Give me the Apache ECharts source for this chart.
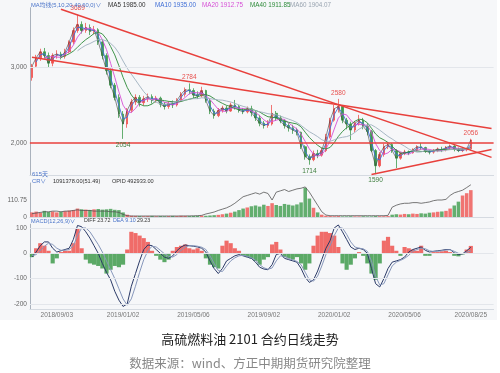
<!DOCTYPE html>
<html><head><meta charset="utf-8">
<script src="https://cdn.jsdelivr.net/npm/echarts@6/dist/echarts.min.js"></script>
<style>html,body{margin:0;padding:0;background:#fff}#c{width:500px;height:373px}</style>
</head><body><div id="c"></div>
<script>
// Weekly samples (first trading day of each week) of the daily chart
const dates = ['2018/07/23','2018/07/30','2018/08/06','2018/08/13','2018/08/20','2018/08/27','2018/09/03','2018/09/10','2018/09/17','2018/09/25',
'2018/10/08','2018/10/15','2018/10/22','2018/10/29','2018/11/05','2018/11/12','2018/11/19','2018/11/26','2018/12/03','2018/12/10',
'2018/12/17','2018/12/24','2019/01/02','2019/01/07','2019/01/14','2019/01/21','2019/01/28','2019/02/11','2019/02/18','2019/02/25',
'2019/03/04','2019/03/11','2019/03/18','2019/03/25','2019/04/01','2019/04/08','2019/04/15','2019/04/22','2019/04/29','2019/05/06',
'2019/05/13','2019/05/20','2019/05/27','2019/06/03','2019/06/10','2019/06/17','2019/06/24','2019/07/01','2019/07/08','2019/07/15',
'2019/07/22','2019/07/29','2019/08/05','2019/08/12','2019/08/19','2019/08/26','2019/09/02','2019/09/09','2019/09/16','2019/09/23',
'2019/09/30','2019/10/08','2019/10/14','2019/10/21','2019/10/28','2019/11/04','2019/11/11','2019/11/18','2019/11/25','2019/12/02',
'2019/12/09','2019/12/16','2019/12/23','2020/01/02','2020/01/06','2020/01/13','2020/01/20','2020/02/03','2020/02/10','2020/02/17',
'2020/02/24','2020/03/02','2020/03/09','2020/03/16','2020/03/23','2020/03/30','2020/04/07','2020/04/13','2020/04/20','2020/04/27',
'2020/05/06','2020/05/11','2020/05/18','2020/05/25','2020/06/01','2020/06/08','2020/06/15','2020/06/22','2020/06/29','2020/07/06',
'2020/07/13','2020/07/20','2020/07/27','2020/08/03','2020/08/10','2020/08/17','2020/08/25'];
const futureDates = ['2020/08/31','2020/09/07','2020/09/14','2020/09/21','2020/09/28'];

const opens = [2860,3010,3120,3200,3150,3050,3150,3170,3140,3200,
3330,3480,3560,3480,3520,3470,3490,3330,3150,2950,
2760,2600,2380,2250,2430,2540,2600,2530,2580,2610,
2560,2590,2510,2480,2520,2500,2560,2640,2700,2690,
2630,2620,2690,2560,2420,2360,2430,2460,2420,2500,
2480,2430,2410,2450,2400,2330,2260,2230,2250,2390,
2330,2290,2230,2200,2170,2140,1950,1820,1780,1860,
1840,1900,2080,2300,2450,2480,2300,2250,2170,2260,
2300,2220,2150,1900,1700,1850,1950,1980,1900,1800,
1860,1880,1870,1910,1950,1940,1890,1880,1900,1920,
1910,1940,1960,1920,1900,1910,1920];
const closes = [3010,3120,3200,3150,3050,3150,3170,3140,3200,3330,
3480,3560,3480,3520,3470,3490,3330,3150,2950,2760,
2600,2380,2250,2430,2540,2600,2530,2580,2610,2560,
2590,2510,2480,2520,2500,2560,2640,2700,2690,2630,
2620,2690,2560,2420,2360,2430,2460,2420,2500,2480,
2430,2410,2450,2400,2330,2260,2230,2250,2390,2330,
2290,2230,2200,2170,2140,1950,1820,1780,1860,1840,
1900,2080,2300,2450,2480,2300,2250,2170,2260,2300,
2220,2150,1900,1700,1850,1950,1980,1900,1800,1860,
1880,1870,1910,1950,1940,1890,1880,1900,1920,1910,
1940,1960,1920,1900,1910,1920,2040];
const lows = [2820,2990,3080,3110,3000,3010,3110,3100,3110,3180,
3300,3450,3440,3450,3420,3430,3290,3100,2900,2720,
2560,2330,2054,2200,2400,2500,2480,2490,2540,2520,
2530,2470,2440,2450,2460,2480,2540,2610,2640,2590,
2580,2600,2530,2380,2320,2340,2400,2390,2410,2440,
2400,2380,2390,2350,2290,2220,2190,2200,2230,2290,
2260,2190,2150,2120,2100,1920,1780,1714,1760,1800,
1820,1880,2060,2280,2400,2260,2180,2040,2140,2230,
2180,2100,1880,1590,1680,1820,1920,1870,1670,1780,
1840,1840,1860,1890,1910,1870,1850,1860,1880,1880,
1890,1910,1890,1880,1880,1890,1900];
const highs = [3040,3160,3240,3250,3190,3180,3220,3200,3240,3350,
3520,3689,3600,3580,3560,3540,3510,3360,3180,2980,
2790,2640,2420,2460,2580,2640,2630,2620,2650,2640,
2620,2610,2540,2550,2560,2590,2670,2730,2784,2720,
2680,2740,2700,2580,2450,2460,2490,2490,2530,2566,
2500,2460,2480,2490,2430,2370,2290,2300,2500,2420,
2360,2310,2260,2240,2200,2150,1970,1850,1900,1910,
1940,2120,2330,2500,2580,2500,2330,2280,2290,2370,
2330,2260,2170,1920,1880,1990,2010,2000,1920,1880,
1910,1900,1930,1970,2000,1950,1910,1920,1940,1950,
1960,1980,1970,1940,1930,1940,2056];

// volume (scale where axis mark reads 110.75) and open interest (10k lots)
const volumes = [30,35,28,40,33,36,30,34,38,42,45,
55,50,48,46,50,52,48,50,53,47,45,
30,15,
8,7,6,5,6,7,5,6,5,6,7,6,8,7,6,
7,8,9,8,10,12,14,
18,22,28,35,45,55,62,
70,75,68,80,72,90,
78,72,85,80,75,82,95,
190,120,60,30,15,
8,6,5,6,4,4,5,4,4,5,4,4,6,5,5,6,
15,18,16,20,18,22,20,24,22,
28,30,34,36,40,
55,75,100,140,
155,175];
const openInterest = [5,6,7,8,8,9,9,8,9,9,10,11,10,10,10,9,9,9,9,8,8,7,
4,2,1.5,1.5,1.5,1.5,1.5,1.5,1.5,1.5,1.5,1.5,1.5,1.5,1.5,1.6,1.7,1.8,2,2.5,
4.6,6,7.6,10,12,14,17,21,26,31,33,35,
37,35,38,36,26,
38,40,42,39,41,43,44,46,
38,28,18,8,3,
2,2,2,2,2,2,2,2,2,2,2,2,2,2,2.5,
15,18,20,21,21,
22,22,21,22,23,
25,26,26,27,
33,37,39,41,
45,49.3];

const diffValues = [-15,5,30,45,45,20,5,10,15,20,
55,110,105,85,60,30,0,-40,-75,-105,
-150,-185,-210,-200,-130,-80,-30,15,33,30,
15,0,-15,-20,-10,10,25,33,30,28,
25,20,5,-30,-60,-80,-60,-30,-20,-10,
-5,-10,-15,-20,-35,-55,-62,-65,-45,-5,
0,-20,-25,-30,-35,-60,-95,-115,-105,-70,
-25,20,50,100,112,85,55,25,15,20,
15,0,-60,-120,-133,-100,-60,-35,-30,-25,
-15,5,15,20,25,12,5,8,10,12,
15,15,2,-5,-2,10,23.72];
const deaValues = [-10,-5,10,28,40,35,20,12,12,15,
30,70,100,100,85,60,35,5,-30,-65,
-100,-140,-180,-205,-180,-130,-75,-25,10,28,
25,12,-2,-12,-15,-5,12,25,30,30,
28,24,15,-10,-40,-68,-72,-50,-30,-18,
-10,-8,-12,-17,-27,-45,-57,-63,-58,-30,
-10,-12,-20,-26,-32,-45,-75,-105,-110,-90,
-50,-5,30,70,100,100,75,45,25,20,
18,8,-30,-90,-125,-120,-85,-50,-35,-28,
-20,-8,8,15,20,18,10,7,8,10,
13,14,8,0,-2,4,9.10];
const macdValues = [-15,20,40,30,10,-40,-20,5,10,10,
40,100,20,-25,-40,-45,-50,-60,-80,-65,
-50,-55,-45,15,85,80,70,60,45,10,
-10,-25,-35,-25,10,25,30,35,20,15,
20,10,-20,-45,-55,-60,30,50,40,20,
10,-10,-15,-20,-30,-45,-25,-15,35,45,
15,-15,-20,-25,-15,-40,-65,-40,30,70,
85,85,80,70,25,-40,-65,-45,-20,5,
-10,-40,-80,-105,-40,50,65,30,10,-10,
25,20,15,10,30,-10,-10,5,5,8,
10,5,-10,-12,-5,15,29.23];

const maNames = ['MA5','MA10','MA20','MA40','MA60'];
const maWeeks = [1,2,4,8,12];            // weekly equivalents of the 5/10/20/40/60-day averages
const maColors = ['#3a3a3a','#3f6ed6','#d64fd6','#2e8b3a','#9fb0bf'];
const priceLabels = [2000,3000];
const volumeLabels = [0,110.75];
const macdLabels = [-200,-100,0,100];
const xLabelDates = ['2018/09/03','2019/01/02','2019/05/06','2019/09/02','2020/01/02','2020/05/06','2020/08/25'];
const peakIdx = [11,38,74,106];
const troughIdx = [22,67,83];
const supportLevel = 2000;
// trend lines: [startIndex, startPrice, endIndex, endPrice]
const trendLines = [[7,3759,111,1811],[0,3128,111,2191],[82,1584,111,1913]];

const allDates = dates.concat(futureDates);
const candles = dates.map((d,i)=>[opens[i],closes[i],lows[i],highs[i]]);
function ma(win){
  return closes.map((c,i)=>{
    if(i<win-1) return '-';
    let s=0; for(let k=i-win+1;k<=i;k++) s+=closes[k];
    return +(s/win).toFixed(2);
  });
}
const LF='Liberation Sans';
const UP='#ef5350', DOWN='#3f9b4c';
const gl=29.9, gw=463.7;
const grids=[{left:gl,width:gw,top:7.7,height:167.2},{left:gl,width:gw,top:183,height:34},{left:gl,width:gw,top:224.2,height:84.8}];
const xAxes=[0,1,2].map(k=>({type:'category',gridIndex:k,data:allDates,boundaryGap:true,
  axisLine:{show:true,onZero:false,lineStyle:{color:'#d5dae1',width:1}},axisTick:{show:false},splitLine:{show:false},
  axisLabel:k===2?{show:true,interval:(idx,val)=>xLabelDates.indexOf(val)>=0,fontSize:6.5,color:'#777',margin:3,fontFamily:LF}:{show:false}}));
const yBase=(g,min,max,vals)=>({type:'value',gridIndex:g,min,max,
  axisLine:{show:true,lineStyle:{color:'#aab2bd'}},axisTick:{show:false},splitLine:{show:false},
  axisLabel:{show:!!vals,customValues:vals||undefined,fontSize:6.5,color:'#666',margin:3,fontFamily:LF}});
const yAxes=[yBase(0,1580,3780,priceLabels),yBase(1,0,221.5,volumeLabels),
  {type:'value',gridIndex:1,min:0,max:52,show:false},yBase(2,-220,115,macdLabels)];

const markPts=[];
peakIdx.forEach(i=>markPts.push({coord:[dates[i],highs[i]],value:highs[i],label:{position:'top',color:'#e8524f'}}));
troughIdx.forEach(i=>markPts.push({coord:[dates[i],lows[i]],value:lows[i],label:{position:'bottom',color:'#3d7d3d'}}));

const lineMarks=trendLines.map(t=>[{coord:[allDates[t[0]],t[1]]},{coord:[allDates[t[2]],t[3]]}]);
lineMarks.push({yAxis:supportLevel});

const series=[
  {type:'line',xAxisIndex:0,yAxisIndex:0,data:[],z:1,silent:true,
   markLine:{silent:true,symbol:['none','none'],label:{show:false},lineStyle:{color:'#e3e6eb',width:1,type:'solid'},data:[{yAxis:3000}]}},
  {type:'line',xAxisIndex:2,yAxisIndex:3,data:[],z:1,silent:true,
   markLine:{silent:true,symbol:['none','none'],label:{show:false},lineStyle:{color:'#e3e6eb',width:1,type:'solid'},
   data:macdLabels.map(v=>({yAxis:v}))}},
  {type:'candlestick',xAxisIndex:0,yAxisIndex:0,data:candles,barMaxWidth:3,
   itemStyle:{color:UP,color0:DOWN,borderColor:UP,borderColor0:DOWN,borderWidth:0.8},
   markPoint:{symbol:'circle',symbolSize:1,itemStyle:{color:'rgba(0,0,0,0)'},
     label:{show:true,formatter:'{c}',fontSize:6.5,distance:2,fontFamily:LF},data:markPts},
   markLine:{silent:true,symbol:['none','none'],label:{show:false},lineStyle:{color:'#e8403c',width:1.5,type:'solid'},data:lineMarks}}
];
maNames.forEach((nm,k)=>series.push({type:'line',name:nm,xAxisIndex:0,yAxisIndex:0,data:ma(maWeeks[k]),showSymbol:false,
  lineStyle:{color:maColors[k],width:k===0?0.8:1,opacity:k===0?0.75:0.9},itemStyle:{color:maColors[k]}}));
series.push({type:'bar',xAxisIndex:1,yAxisIndex:1,data:volumes,barCategoryGap:'15%',
  itemStyle:{color:p=>closes[p.dataIndex]>=opens[p.dataIndex]?'rgba(239,83,80,0.8)':'rgba(63,155,76,0.8)'}});
series.push({type:'line',xAxisIndex:1,yAxisIndex:2,data:openInterest,showSymbol:false,lineStyle:{color:'#555',width:0.8}});
series.push({type:'bar',xAxisIndex:2,yAxisIndex:3,data:macdValues,barCategoryGap:'0%',
  itemStyle:{color:p=>p.value>=0?'rgba(239,83,80,0.85)':'rgba(63,155,76,0.85)'}});
series.push({type:'line',xAxisIndex:2,yAxisIndex:3,data:diffValues,showSymbol:false,lineStyle:{color:'#2b3a67',width:1}});
series.push({type:'line',xAxisIndex:2,yAxisIndex:3,data:deaValues,showSymbol:false,lineStyle:{color:'#8797bb',width:1}});

const F='"Liberation Sans", "Noto Sans CJK SC", sans-serif';
const FC='"Noto Sans CJK SC", sans-serif';
function txt(x,y,t,c,size,align,font){return {type:'text',x,y,silent:true,z:100,style:{text:t,fill:c,font:size+'px '+(font||F),textAlign:align||'left',textVerticalAlign:'middle'}};}
const graphics=[
  {type:'rect',shape:{x:0,y:0,width:497,height:320},style:{fill:'#f6f7f9'},z:-10,silent:true},
  txt(31,5,'MA均线(5,10,20,40,60,0)∨','#4a74c9',5.8),
  txt(108,5,'MA5 1985.00','#333',6.3),
  txt(155,5,'MA10 1935.00','#3f6ed6',6.3),
  txt(202,5,'MA20 1912.75','#d64fd6',6.3),
  txt(250,5,'MA40 1911.85','#2e8b3a',6.3),
  txt(290,5,'MA60 1904.07','#9aa5b1',6.3),
  txt(32,174,'615天','#4a74c9',6),
  txt(32,181,'CR∨','#4a74c9',5.8),
  txt(53,181,'1091378.00(51.49)','#333',5.6),
  txt(112,181,'OPID 492933.00','#333',5.6),
  txt(31,221,'MACD(12,26,9)∨','#4a74c9',5.6),
  txt(84,221,'DIFF 23.72','#333',5.3),
  txt(113,221,'DEA 9.10','#4a74c9',5.3),
  txt(137,221,'29.23','#333',5.3),
  txt(250,339,'高硫燃料油 2101 合约日线走势','#222',13,'center',FC),
  txt(250,363,'数据来源：wind、方正中期期货研究院整理','#888',12.5,'center',FC)
];

const chart=echarts.init(document.getElementById('c'),null,{width:500,height:373});
chart.setOption({animation:false,backgroundColor:'#fff',grid:grids,xAxis:xAxes,yAxis:yAxes,series,graphic:graphics});
</script></body></html>
